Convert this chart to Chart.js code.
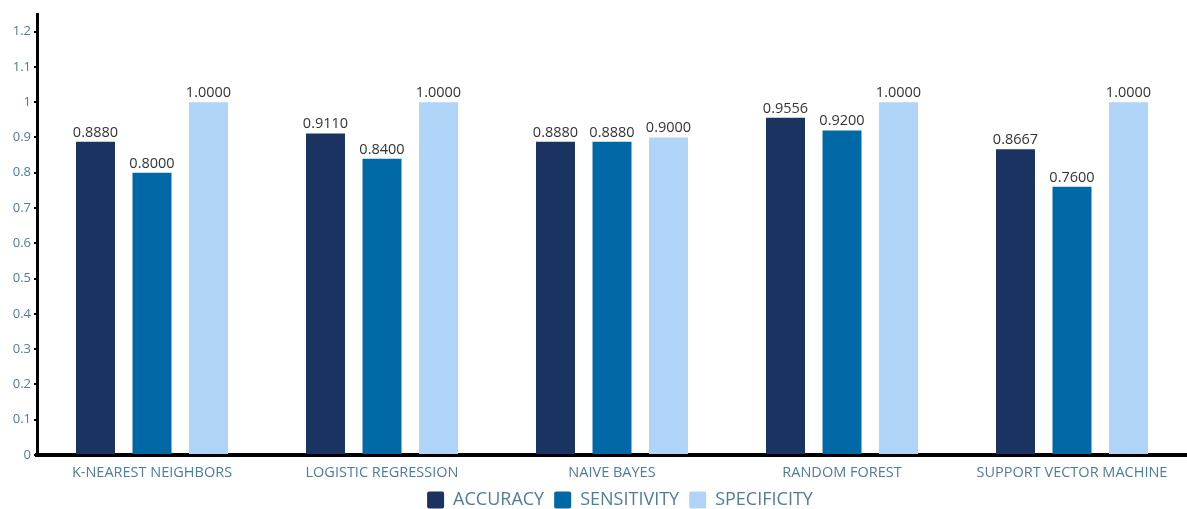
<!DOCTYPE html>
<html>
<head>
<meta charset="utf-8">
<script src="https://cdn.jsdelivr.net/npm/chart.js@4/dist/chart.umd.min.js"></script>
<style>
  html, body { margin: 0; padding: 0; background: #fff; }
  #wrap { width: 1187px; height: 509px; }
</style>
</head>
<body>
<div id="wrap"><canvas id="grafico"></canvas></div>
<script>
// dati del grafico
const modelli = ['K-NEAREST NEIGHBORS', 'LOGISTIC REGRESSION', 'NAIVE BAYES', 'RANDOM FOREST', 'SUPPORT VECTOR MACHINE'];
const accuracy = [0.8880, 0.9110, 0.8880, 0.9556, 0.8667];
const sensitivity = [0.8000, 0.8400, 0.8880, 0.9200, 0.7600];
const specificity = [1.0000, 1.0000, 0.9000, 1.0000, 1.0000];
const yTicks = [0, 0.1, 0.2, 0.3, 0.4, 0.5, 0.6, 0.7, 0.8, 0.9, 1, 1.1, 1.2];

const coloreTesto = '#4f7c9b';

// plugin per scrivere i valori sopra le barre
const etichetteValori = {
    id: 'etichetteValori',
    afterDatasetsDraw: function (chart) {
        const ctx = chart.ctx;
        ctx.save();
        ctx.font = '14.5px "Open Sans", sans-serif';
        ctx.fillStyle = '#333';
        ctx.textAlign = 'center';
        ctx.textBaseline = 'bottom';
        chart.data.datasets.forEach(function (ds, i) {
            chart.getDatasetMeta(i).data.forEach(function (bar, j) {
                ctx.fillText(ds.data[j].toFixed(4), bar.x, bar.y - 2);
            });
        });
        ctx.restore();
    }
};

// sposta la legenda al centro dell'area del grafico
const legendaCentrata = {
    id: 'legendaCentrata',
    afterLayout: function (chart) {
        const spost = (chart.chartArea.left + chart.chartArea.right) / 2 - chart.width / 2 + 8;
        chart.legend.left += spost;
        chart.legend.right += spost;
    }
};

new Chart(document.getElementById('grafico'), {
    type: 'bar',
    data: {
        labels: modelli,
        datasets: [
            { label: 'ACCURACY', data: accuracy, backgroundColor: '#1b3360' },
            { label: 'SENSITIVITY', data: sensitivity, backgroundColor: '#0068a4' },
            { label: 'SPECIFICITY', data: specificity, backgroundColor: '#afd4f8' }
        ]
    },
    options: {
        responsive: true,
        maintainAspectRatio: false,
        animation: false,
        layout: { padding: { top: 14, right: 0, left: 0, bottom: -10 } },
        datasets: { bar: { categoryPercentage: 0.737, barPercentage: 0.69 } },
        scales: {
            x: {
                grid: { display: false },
                border: { display: true, color: '#000', width: 4 },
                afterFit: function (scale) { scale.height = 26; },
                ticks: {
                    color: coloreTesto,
                    font: { family: '"Open Sans", sans-serif', size: 14.5 },
                    maxRotation: 0,
                    padding: 1
                }
            },
            y: {
                min: 0,
                max: 1.25,
                afterBuildTicks: function (scale) {
                    scale.ticks = yTicks.map(v => ({ value: v }));
                },
                afterFit: function (scale) { scale.width = 37; },
                grid: { drawOnChartArea: false, drawTicks: true, tickLength: 3, color: '#000', lineWidth: 2 },
                border: { display: true, color: '#000', width: 3 },
                ticks: {
                    color: coloreTesto,
                    font: { family: '"Open Sans", sans-serif', size: 13 },
                    padding: 3,
                    callback: function (v) { return String(Math.round(v * 10) / 10); }
                }
            }
        },
        plugins: {
            legend: {
                position: 'bottom',
                labels: {
                    color: coloreTesto,
                    boxWidth: 17,
                    boxHeight: 17,
                    useBorderRadius: true,
                    borderRadius: 2,
                    padding: 10,
                    font: { family: '"Open Sans", sans-serif', size: 18 }
                }
            },
            tooltip: { enabled: false }
        }
    },
    plugins: [etichetteValori, legendaCentrata]
});
</script>
</body>
</html>
